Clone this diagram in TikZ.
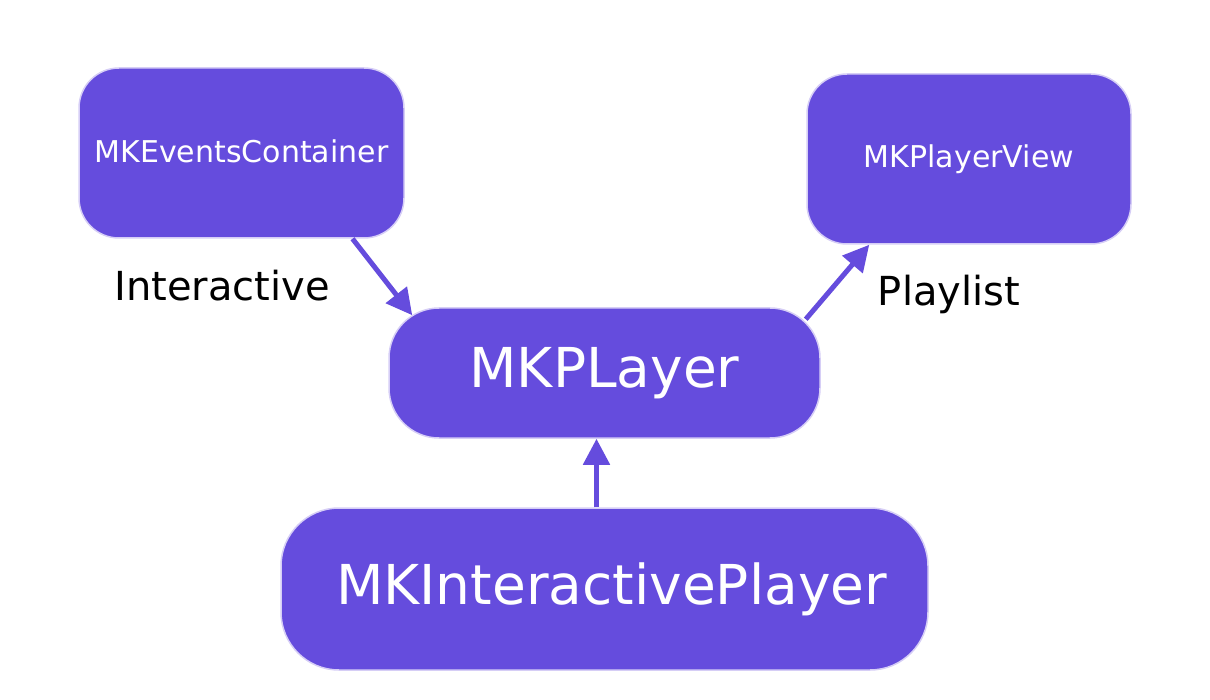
\documentclass[tikz,border=0pt]{standalone}
\usepackage{fontspec}
\setmainfont{DejaVu Sans}
\usetikzlibrary{arrows.meta,calc}
\definecolor{boxfill}{RGB}{101,76,221}
\definecolor{boxedge}{RGB}{214,206,246}
\tikzset{
  umlbox/.style={fill=boxfill, draw=boxedge, line width=1.5pt, text=white, inner sep=0pt, anchor=center},
  conn/.style={draw=boxfill, line width=5pt, -{Triangle[length=26pt,width=26pt]}},
  lbl/.style={text=black, inner sep=0pt, font=\fontsize{40}{48}\selectfont}
}
\begin{document}
\begin{tikzpicture}[x=1pt,y=-1pt]
\useasboundingbox (0,0) rectangle (1210,700);
\node[umlbox, minimum width=325pt, minimum height=170pt, rounded corners=40pt, font=\fontsize{30}{36}\selectfont] (ev) at (241.5,153) {\raisebox{3pt}{MKEventsContainer}};
\node[umlbox, minimum width=324pt, minimum height=170pt, rounded corners=40pt, font=\fontsize{30}{36}\selectfont] (pv) at (969,159) {MKPlayerView};
\node[umlbox, minimum width=431pt, minimum height=130pt, rounded corners=50pt, font=\fontsize{55}{66}\selectfont] (pl) at (604.5,373) {\raisebox{-2pt}{MKPLayer}};
\node[umlbox, minimum width=647pt, minimum height=162pt, rounded corners=58pt, font=\fontsize{55}{66}\selectfont] (ip) at (604.5,589) {\hspace{14pt}MKInteractivePlayer};
\node[lbl] (l1) at (222,286) {Interactive};
\node[lbl] (l2) at (949,294) {Playlist};
\draw[conn] ($(ev.south west)!0.84!(ev.south east)$) -- ($(pl.north west)+(24,8)$);
\draw[conn] ($(pl.north east)+(-15,12)$) -- ($(pv.south west)+(63,0)$);
\draw[conn] ($(ip.north)+(-8,0)$) -- ($(pl.south)+(-8,0)$);
\end{tikzpicture}
\end{document}
